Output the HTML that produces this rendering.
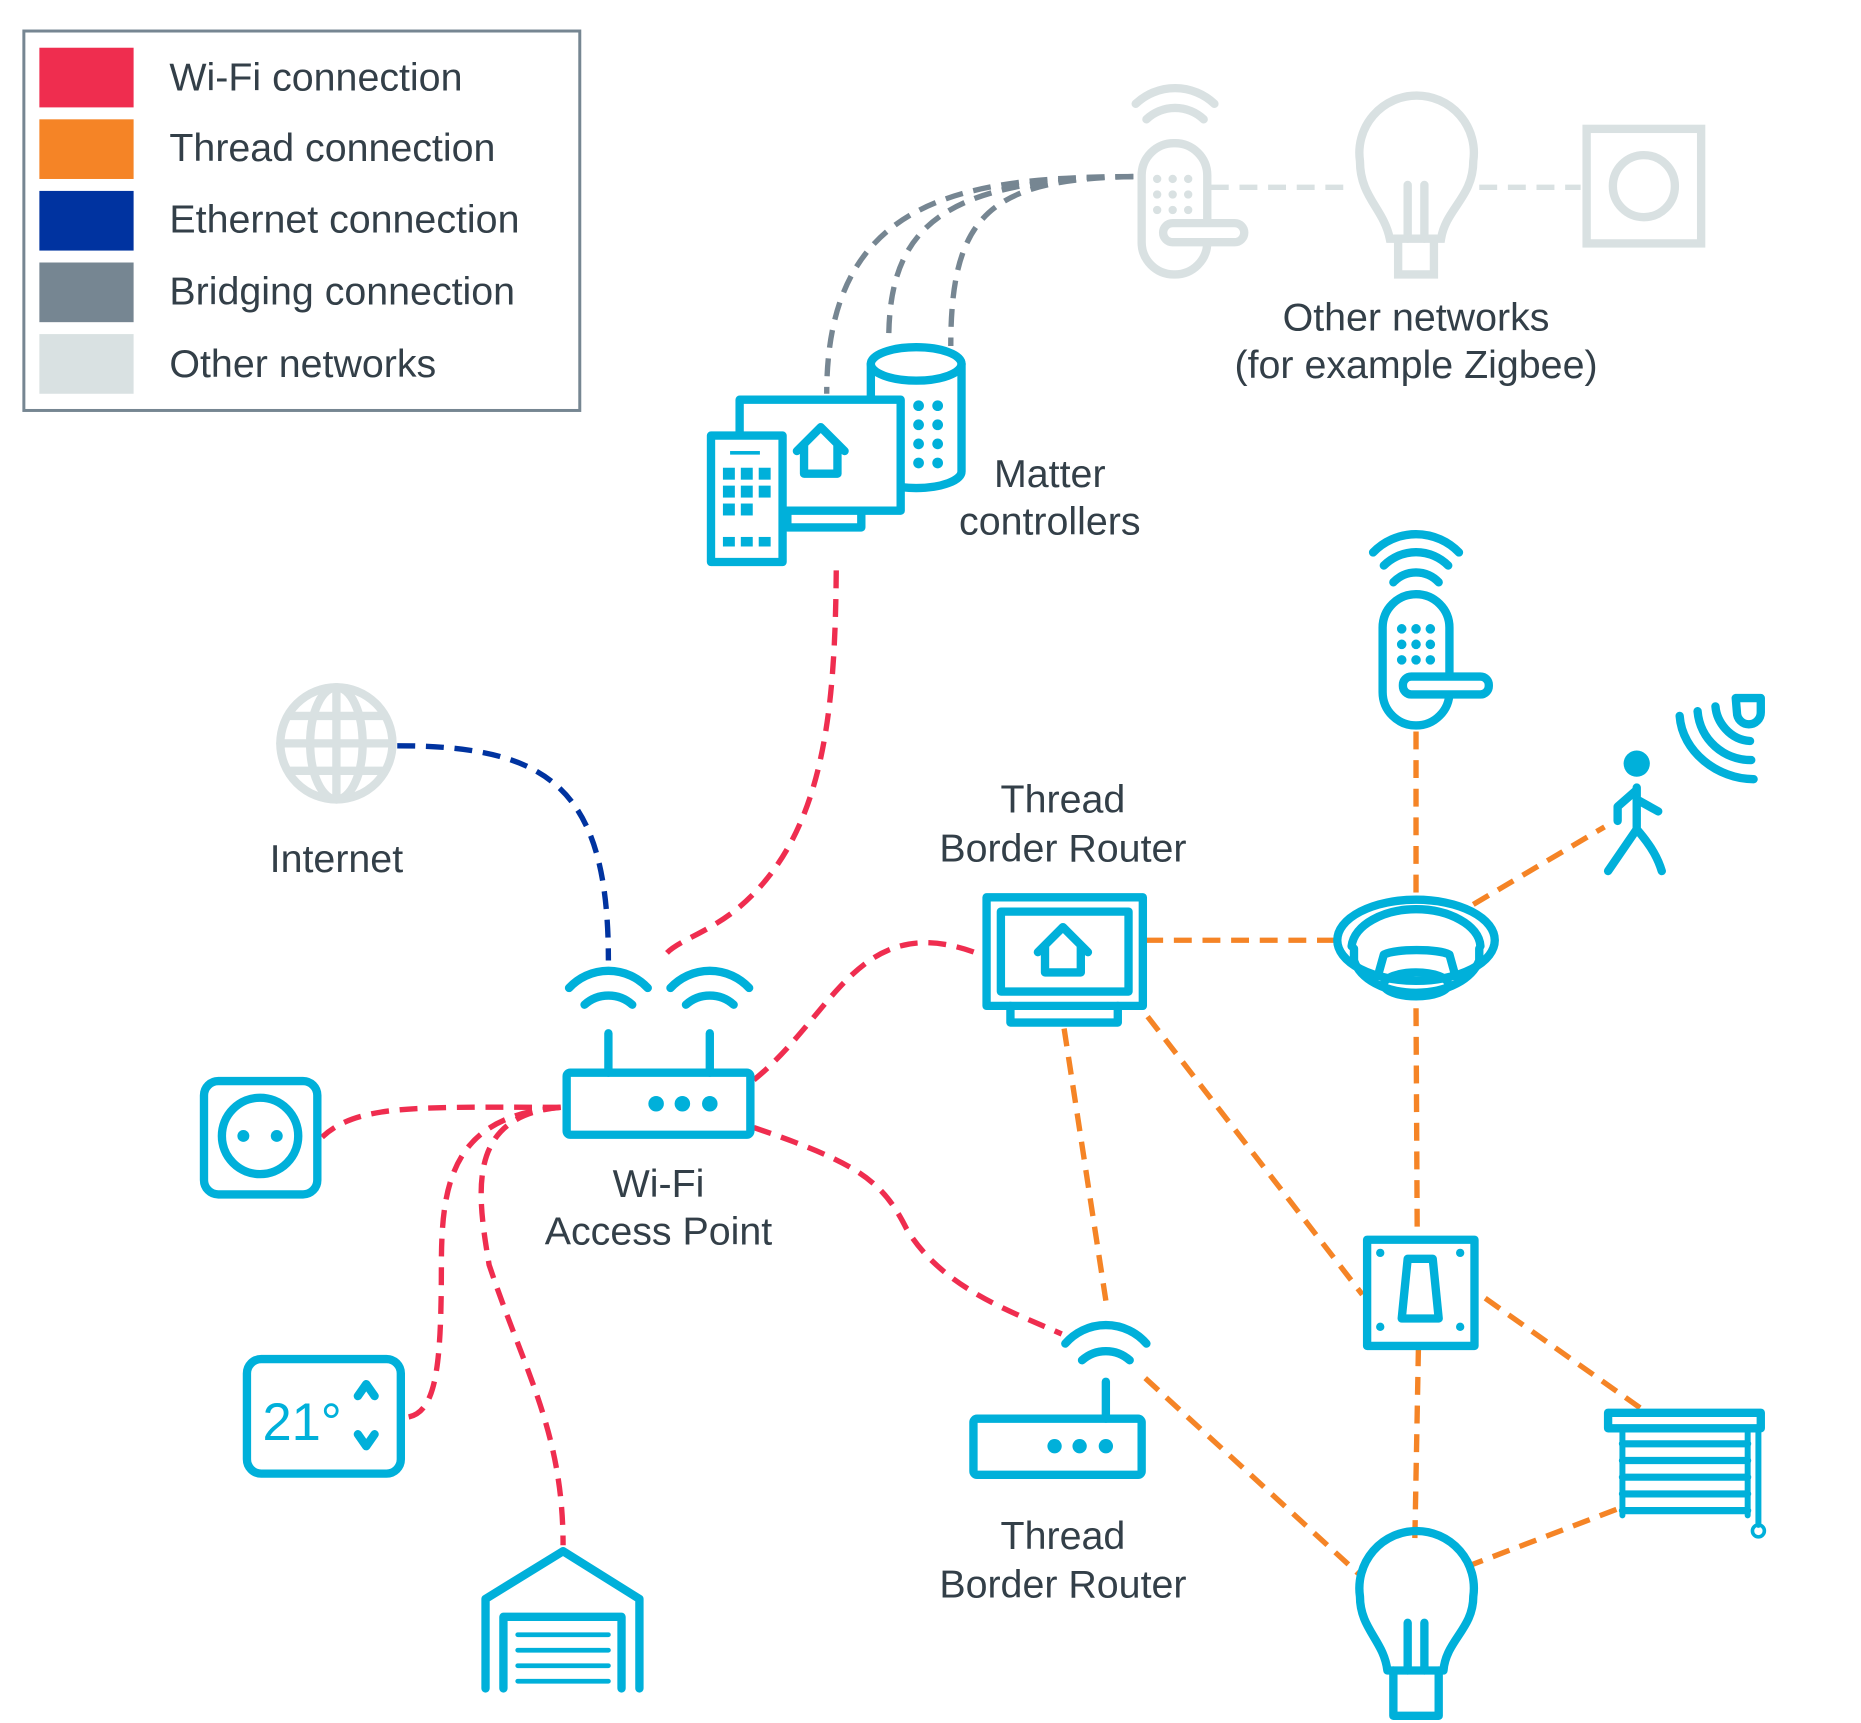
<!DOCTYPE html>
<html><head><meta charset="utf-8"><style>
html,body{margin:0;padding:0;background:#fff;}
svg{display:block;}
text{font-family:"Liberation Sans",Arial,sans-serif;fill:#333F48;}
</style></head><body>
<svg width="1861" height="1723" viewBox="0 0 1560 1444" preserveAspectRatio="none" xmlns="http://www.w3.org/2000/svg">
<rect x="20" y="26" width="466" height="318" fill="#fff" stroke="#768692" stroke-width="2.5"/>
<rect x="33" y="40" width="79" height="50" fill="#EF2D4F"/>
<rect x="33" y="100" width="79" height="50" fill="#F58426"/>
<rect x="33" y="160" width="79" height="50" fill="#0033A0"/>
<rect x="33" y="220" width="79" height="50" fill="#768692"/>
<rect x="33" y="280" width="79" height="50" fill="#D9E1E2"/>
<g font-size="33">
<text x="142" y="76">Wi-Fi connection</text>
<text x="142" y="135">Thread connection</text>
<text x="142" y="195">Ethernet connection</text>
<text x="142" y="255">Bridging connection</text>
<text x="142" y="316">Other networks</text>
</g>

<g font-size="33" text-anchor="middle">
<text x="1187" y="277">Other networks</text>
<text x="1187" y="317">(for example Zigbee)</text>
<text x="880" y="408">Matter</text>
<text x="880" y="448">controllers</text>
<text x="282" y="731">Internet</text>
<text x="891" y="681">Thread</text>
<text x="891" y="722">Border Router</text>
<text x="552" y="1003">Wi-Fi</text>
<text x="552" y="1043">Access Point</text>
<text x="891" y="1298">Thread</text>
<text x="891" y="1339">Border Router</text>
</g>

<g fill="none" stroke-width="4.5" stroke-dasharray="15 9">
<g stroke="#768692">
<path d="M950,148 C800,148 693,170 693,330"/>
<path d="M950,148 C790,150 745,190 745,285"/>
<path d="M950,148 C830,150 797,180 797,290"/>
</g>
<g stroke="#D9E1E2">
<path d="M1015,157 L1135,157"/>
<path d="M1240,157 L1325,157"/>
</g>
<path stroke="#0033A0" d="M333,625 C460,625 510,660 510,805"/>
<g stroke="#EF2D4F">
<path d="M701,478 C700,600 690,700 620,760 C590,785 560,790 555,805"/>
<path d="M632,905 C700,850 720,760 822,800"/>
<path d="M632,945 C720,975 740,990 760,1030 C790,1080 850,1100 890,1118"/>
<path d="M470,928 C350,928 300,925 270,953"/>
<path d="M470,928 C380,935 370,990 370,1060 C370,1150 365,1185 340,1188"/>
<path d="M470,928 C390,935 400,1000 410,1060 C440,1150 472,1200 472,1295"/>
</g>
<g stroke="#F58426">
<path d="M960,788 L1120,788"/>
<path d="M1187,748 L1187,612"/>
<path d="M1235,758 L1345,693"/>
<path d="M1187,845 L1188,1037"/>
<path d="M962,852 L1142,1085"/>
<path d="M892,862 L927,1090"/>
<path d="M1189,1130 L1186,1290"/>
<path d="M1245,1088 L1375,1180"/>
<path d="M1355,1265 L1232,1312"/>
<path d="M960,1155 L1140,1320"/>
</g>
</g>

<g fill="none" stroke="#D9E1E2" stroke-width="7" stroke-linecap="round">
<circle cx="282" cy="623" r="47"/>
<ellipse cx="282" cy="623" rx="22" ry="47"/>
<line x1="282" y1="576" x2="282" y2="670"/>
<line x1="235" y1="623" x2="329" y2="623"/>
<line x1="242" y1="600" x2="322" y2="600"/>
<line x1="242" y1="646" x2="322" y2="646"/>
<rect x="957" y="120" width="55" height="110" rx="27"/>
<rect x="975" y="187" width="68" height="16" rx="8" fill="#fff"/>
<path d="M961,100 A35,35 0 0 1 1009,100"/>
<path d="M952,87 A48,48 0 0 1 1018,87"/>
<path d="M1165,200 C1160,175 1140,165 1140,135 A48,48 0 1 1 1235,135 C1235,165 1212,175 1208,200 Z"/>
<path d="M1172,200 L1172,230 L1202,230 L1202,200"/>
<path d="M1180,200 L1180,155 M1194,200 L1194,155"/>
<rect x="1330" y="108" width="96" height="96"/>
<circle cx="1378" cy="156" r="26"/>
</g>
<g fill="#D9E1E2"><circle cx="970" cy="150" r="3.5"/><circle cx="983" cy="150" r="3.5"/><circle cx="996" cy="150" r="3.5"/><circle cx="970" cy="163" r="3.5"/><circle cx="983" cy="163" r="3.5"/><circle cx="996" cy="163" r="3.5"/><circle cx="970" cy="176" r="3.5"/><circle cx="983" cy="176" r="3.5"/><circle cx="996" cy="176" r="3.5"/></g>

<g fill="none" stroke="#00B0DA" stroke-width="7" stroke-linecap="round" stroke-linejoin="round">
<path d="M730,305 L730,395 A38,14 0 0 0 806,395 L806,305"/>
<ellipse cx="768" cy="305" rx="38" ry="14"/>
<rect x="620" y="335" width="135" height="93" fill="#fff"/>
<path d="M660,428 L660,442 L722,442 L722,428"/>
<path d="M668,378 L688,358 L708,378 M674,372 L674,397 L702,397 L702,372"/>
<rect x="596" y="365" width="60" height="106" fill="#fff"/>
<rect x="827" y="752" width="131" height="91"/>
<rect x="839" y="764" width="107" height="67"/>
<path d="M847,843 L847,857 L937,857 L937,843"/>
<path d="M870,798 L891,777 L912,798 M876,792 L876,815 L906,815 L906,792"/>
<rect x="475" y="899" width="154" height="52" rx="3"/>
<line x1="510" y1="866" x2="510" y2="899"/><line x1="595" y1="866" x2="595" y2="899"/>
<path d="M490,842 A30,30 0 0 1 530,842"/><path d="M477,828 A45,45 0 0 1 543,828"/>
<path d="M575,842 A30,30 0 0 1 615,842"/><path d="M562,828 A45,45 0 0 1 628,828"/>
<rect x="171" y="906" width="95" height="95" rx="12"/>
<circle cx="218" cy="952" r="32"/>
<rect x="207" y="1139" width="129" height="96" rx="12"/>
<path d="M300,1170 L307,1160 L314,1170 M300,1202 L307,1212 L314,1202"/>
<path d="M407,1415 L407,1340 L472,1300 L536,1340 L536,1415"/>
<path d="M422,1415 L422,1355 L521,1355 L521,1415"/>
<path d="M434,1370 L510,1370 M434,1383 L510,1383 M434,1396 L510,1396 M434,1409 L510,1409" stroke-width="4"/>
<rect x="816" y="1189" width="141" height="47" rx="3"/>
<line x1="927" y1="1158" x2="927" y2="1189"/>
<path d="M907,1140 A30,30 0 0 1 947,1140"/><path d="M893,1126 A45,45 0 0 1 961,1126"/>
<rect x="1159" y="498" width="56" height="110" rx="28"/>
<rect x="1176" y="567" width="72" height="15" rx="7" fill="#fff"/>
<path d="M1168,488 A26,26 0 0 1 1206,488"/>
<path d="M1160,474 A38,38 0 0 1 1214,474"/>
<path d="M1151,463 A50,50 0 0 1 1223,463"/>
<path d="M1372,660 L1372,695 L1348,730 M1372,695 C1385,710 1390,720 1393,730 M1372,662 L1356,676 L1356,688 M1372,670 L1390,680"/>
<path d="M1470,653 C1440,653 1410,630 1408,600 M1468,637 C1445,637 1425,620 1423,596 M1467,621 C1450,620 1439,605 1438,592"/>
<path d="M1455,585 L1476,585 L1476,597 A10,10 0 0 1 1456,597 Z"/>
<ellipse cx="1187" cy="788" rx="66" ry="34"/>
<path d="M1133,793 C1135,775 1160,762 1187,762 C1214,762 1240,775 1241,793"/>
<path d="M1135,795 L1135,805 C1140,820 1160,832 1187,832 C1214,832 1234,820 1240,805 L1240,795"/>
<path d="M1155,818 L1160,800 C1170,795 1205,795 1215,800 L1220,818"/>
<ellipse cx="1187" cy="825" rx="27" ry="10"/>
<rect x="1146" y="1039" width="90" height="89"/>
<path d="M1180,1055 L1201,1055 L1206,1105 L1175,1105 Z"/>
<rect x="1348" y="1184" width="128" height="13"/>
<path d="M1360,1210 L1465,1210 M1360,1224 L1465,1224 M1360,1238 L1465,1238 M1360,1252 L1465,1252 M1360,1266 L1465,1266" stroke-width="6"/>
<path d="M1360,1197 L1360,1270 M1465,1197 L1465,1270 M1474,1197 L1474,1278" stroke-width="5"/>
<circle cx="1474" cy="1283" r="5" stroke-width="3"/>
<path d="M1163,1400 C1160,1375 1140,1365 1140,1338 A48,48 0 1 1 1235,1338 C1235,1365 1212,1375 1210,1400 Z"/>
<path d="M1168,1400 L1168,1438 L1206,1438 L1206,1400"/>
<path d="M1180,1400 L1180,1360 M1194,1400 L1194,1360"/>
</g>
<g fill="#00B0DA">
<circle cx="1372" cy="640" r="11"/>
<circle cx="550" cy="925" r="6.5"/><circle cx="572" cy="925" r="6.5"/><circle cx="595" cy="925" r="6.5"/>
<circle cx="884" cy="1212" r="6"/><circle cx="905" cy="1212" r="6"/><circle cx="927" cy="1212" r="6"/>
<circle cx="204" cy="952" r="5"/><circle cx="232" cy="952" r="5"/>
<circle cx="1175" cy="527" r="4"/><circle cx="1187" cy="527" r="4"/><circle cx="1199" cy="527" r="4"/>
<circle cx="1175" cy="540" r="4"/><circle cx="1187" cy="540" r="4"/><circle cx="1199" cy="540" r="4"/>
<circle cx="1175" cy="553" r="4"/><circle cx="1187" cy="553" r="4"/><circle cx="1199" cy="553" r="4"/>
<circle cx="770" cy="340" r="4.5"/><circle cx="786" cy="340" r="4.5"/><circle cx="770" cy="356" r="4.5"/><circle cx="786" cy="356" r="4.5"/><circle cx="770" cy="372" r="4.5"/><circle cx="786" cy="372" r="4.5"/><circle cx="770" cy="388" r="4.5"/><circle cx="786" cy="388" r="4.5"/>
<rect x="606" y="392" width="10" height="10"/><rect x="621" y="392" width="10" height="10"/><rect x="636" y="392" width="10" height="10"/>
<rect x="606" y="407" width="10" height="10"/><rect x="621" y="407" width="10" height="10"/><rect x="636" y="407" width="10" height="10"/>
<rect x="606" y="422" width="10" height="10"/><rect x="621" y="422" width="10" height="10"/>
<rect x="606" y="450" width="10" height="8"/><rect x="621" y="450" width="10" height="8"/><rect x="636" y="450" width="10" height="8"/>
<rect x="612" y="378" width="25" height="3"/>
<circle cx="1157" cy="1112" r="3.5"/><circle cx="1224" cy="1112" r="3.5"/><circle cx="1157" cy="1050" r="3.5"/><circle cx="1224" cy="1050" r="3.5"/>
</g>
<text x="220" y="1207" font-size="44" style="fill:#00B0DA">21°</text>
</svg>
</body></html>
